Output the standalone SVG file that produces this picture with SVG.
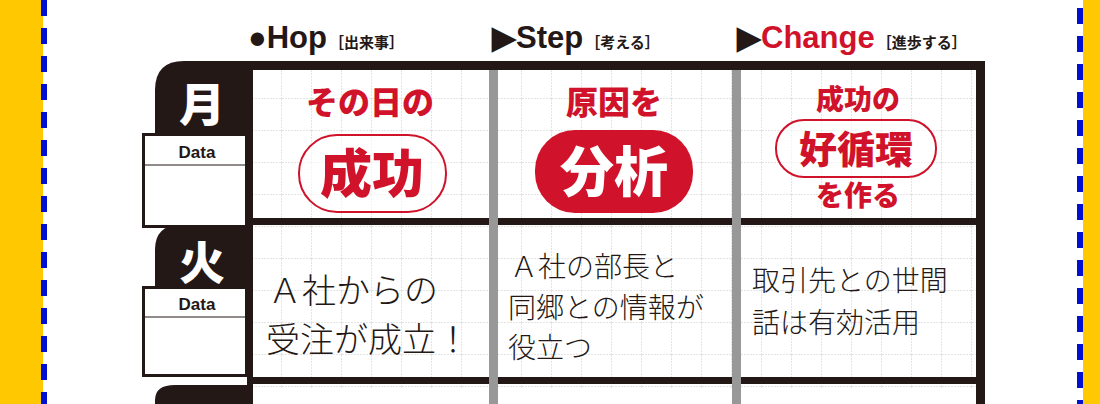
<svg xmlns="http://www.w3.org/2000/svg" width="1100" height="404" viewBox="0 0 1100 404">
<defs>
<pattern id="grid" x="252" y="3" width="30" height="32" patternUnits="userSpaceOnUse">
<path d="M30 0V32M0 32H30" fill="none" stroke="#c8c8c8" stroke-width="1" stroke-dasharray="2 1"/>
</pattern>
</defs>
<style>
.hd{font-family:"Liberation Sans",Arial,sans-serif;font-weight:bold;font-size:31px;fill:#231815}
.hs{font-family:"Noto Sans CJK JP",sans-serif;font-weight:bold;font-size:15px;fill:#231815}
.red{font-family:"Noto Sans CJK JP",sans-serif;font-weight:900;fill:#d0122a;text-anchor:middle}
.hw{font-family:"Noto Sans CJK JP",sans-serif;font-weight:300;fill:#231815}
.day{font-family:"Noto Sans CJK JP",sans-serif;font-weight:900;font-size:46px;fill:#fff;text-anchor:middle}
.dt{font-family:"Liberation Sans",Arial,sans-serif;font-weight:bold;font-size:17px;fill:#231815;text-anchor:middle}
</style>
<rect width="1100" height="404" fill="#fff"/>
<rect x="0" y="0" width="43" height="404" fill="#ffc800"/>
<line x1="44" y1="0" x2="44" y2="404" stroke="#0010d0" stroke-width="6" stroke-dasharray="16 12"/>
<rect x="1083" y="0" width="17" height="404" fill="#ffc800"/>
<line x1="1080" y1="8" x2="1080" y2="404" stroke="#0010d0" stroke-width="6" stroke-dasharray="16 12"/>
<g id="headers">
<text x="248" y="48" class="hd">●Hop<tspan class="hs" dx="2">［出来事］</tspan></text>
<text x="492" y="48" class="hd">▶Step<tspan class="hs" dx="2">［考える］</tspan></text>
<text x="737" y="48" class="hd">▶<tspan fill="#d0122a">Change</tspan><tspan class="hs" dx="2">［進歩する］</tspan></text>
</g>
<g id="table">
<rect x="253" y="70" width="723" height="318" fill="url(#grid)"/>
<rect x="247" y="61" width="738" height="9" fill="#231815"/>
<rect x="976" y="61" width="9" height="343" fill="#231815"/>
<rect x="247" y="61" width="6" height="343" fill="#231815"/>
<rect x="247" y="218" width="738" height="7" fill="#231815"/>
<rect x="247" y="377" width="738" height="7" fill="#231815"/>
<rect x="489" y="70" width="9" height="334" fill="#989898"/>
<rect x="732" y="70" width="9" height="334" fill="#989898"/>
</g>
<g id="mon">
<path d="M155 133V90Q155 61 184 61H253V133Z" fill="#231815"/>
<text x="202" y="121" class="day">月</text>
<rect x="143.5" y="134.5" width="103" height="92" fill="#fff" stroke="#231815" stroke-width="3"/>
<line x1="145" y1="165" x2="246" y2="165" stroke="#231815" stroke-width="1"/>
<text x="197" y="158" class="dt">Data</text>
</g>
<g id="tue">
<path d="M155 287V250Q155 225 180 225H253V287Z" fill="#231815"/>
<text x="202" y="279" class="day">火</text>
<rect x="143.5" y="287.5" width="103" height="88" fill="#fff" stroke="#231815" stroke-width="3"/>
<line x1="145" y1="317" x2="246" y2="317" stroke="#231815" stroke-width="1"/>
<text x="197" y="310" class="dt">Data</text>
</g>
<g id="wed">
<path d="M155 404V400Q155 385 175 385H253V404Z" fill="#231815"/>
</g>
<g id="hop1">
<text x="370" y="114" class="red" font-size="32">その日の</text>
<rect x="299" y="135" width="147" height="77" rx="38" fill="#fff" fill-opacity="0.6" stroke="#d0122a" stroke-width="2"/>
<text x="372" y="193" class="red" font-size="52">成功</text>
</g>
<g id="step1">
<text x="614" y="114" class="red" font-size="32">原因を</text>
<rect x="535" y="130" width="158" height="83" rx="40" fill="#d0122a"/>
<text x="614" y="192" class="red" font-size="54" style="fill:#fff">分析</text>
</g>
<g id="change1">
<text x="858" y="110" class="red" font-size="28">成功の</text>
<rect x="776" y="120" width="160" height="57" rx="28" fill="#fff" fill-opacity="0.6" stroke="#d0122a" stroke-width="2"/>
<text x="856" y="163" class="red" font-size="38">好循環</text>
<text x="858" y="206" class="red" font-size="28">を作る</text>
</g>
<g id="hop2">
<text x="268" y="303" class="hw" font-size="34">Ａ社からの</text>
<text x="266" y="352" class="hw" font-size="34">受注が成立！</text>
</g>
<g id="step2">
<text x="510" y="277" class="hw" font-size="28">Ａ社の部長と</text>
<text x="508" y="318" class="hw" font-size="28">同郷との情報が</text>
<text x="508" y="358" class="hw" font-size="28">役立つ</text>
</g>
<g id="change2">
<text x="752" y="291" class="hw" font-size="28">取引先との世間</text>
<text x="752" y="333" class="hw" font-size="28">話は有効活用</text>
</g>
<g id="connectors"/>
</svg>
